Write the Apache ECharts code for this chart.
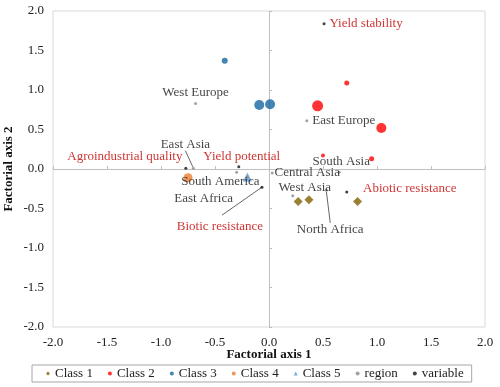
<!DOCTYPE html>
<html>
<head>
<meta charset="utf-8">
<script src="https://cdn.jsdelivr.net/npm/echarts@6/dist/echarts.min.js"></script>
<style>html,body{margin:0;padding:0;background:#fff}#c{width:500px;height:387px}</style>
</head>
<body>
<div id="c"></div>
<script>
// ---- data ----
const axisTicks = [-2.0, -1.5, -1.0, -0.5, 0.0, 0.5, 1.0, 1.5, 2.0];
const class1X = [0.27, 0.37, 0.82];
const class1Y = [-0.41, -0.39, -0.41];
const class2X = [0.45, 1.04, 0.72, 0.95, 0.50];
const class2Y = [0.80, 0.52, 1.09, 0.13, 0.17];
const class3X = [-0.41, -0.09, 0.01];
const class3Y = [1.37, 0.81, 0.82];
const class4X = [-0.75];
const class4Y = [-0.11];
const class5X = [-0.20];
const class5Y = [-0.10];
const regionNames = ['West Europe','East Europe','East Asia','South America','East Africa','Central Asia','West Asia','South Asia','North Africa'];
const regionX = [-0.68, 0.35, -0.70, -0.20, -0.30, 0.03, 0.22, 0.65, 0.53];
const regionY = [0.83, 0.61, 0.01, -0.10, -0.04, -0.05, -0.34, -0.04, -0.27];
const variableNames = ['Yield stability','Agroindustrial quality','Yield potential','Abiotic resistance','Biotic resistance'];
const variableX = [0.51, -0.77, -0.28, 0.72, -0.065];
const variableY = [1.84, 0.01, 0.03, -0.29, -0.23];

// ---- styles ----
const class2Sizes = [11, 10, 5, 5, 4];
const class3Sizes = [6, 10, 10];
const regionLabelOffset = {
  'West Europe':[0,-11],'East Europe':[37,0],'East Asia':[-8,-24],'South America':[-27,5],
  'East Africa':[-33,26],'Central Asia':[35,0],'West Asia':[12,-8],'South Asia':[2,-11],'North Africa':[4,39]
};
const regionLines = ['East Asia','North Africa'];
const variableLabelOffset = {
  'Yield stability':[42,0],'Agroindustrial quality':[-61,-12],'Yield potential':[3,-10],
  'Abiotic resistance':[63,-3],'Biotic resistance':[-42,39]
};
// leader lines drawn manually: [variable name, pixel offset of line end from the point]
const manualLeaders = [['Biotic resistance', [-40, 28]]];
const FONT = 'Liberation Serif';
const guide = {show: false, lineStyle: {color: '#666', width: 1}};

function pts(xs, ys) { return xs.map((x, i) => [x, ys[i]]); }
function named(names, xs, ys, lines) {
  return names.map((n, i) => ({name: n, value: [xs[i], ys[i]], labelLine: {show: lines.indexOf(n) >= 0}}));
}
function layoutFn(names, offs) {
  return function (p) { const o = offs[names[p.dataIndex]]; return {dx: o[0], dy: o[1]}; };
}

const chart = echarts.init(document.getElementById('c'), null, {renderer: 'canvas'});
const fmt = v => v.toFixed(1);
chart.setOption({
  animation: false,
  backgroundColor: '#fff',
  textStyle: {fontFamily: FONT},
  grid: {left: 53, right: 15, top: 11, bottom: 60, show: true, borderColor: '#D9D9D9', borderWidth: 1,
         outerBoundsMode: 'none', containLabel: false},
  xAxis: [
    {type: 'value', min: -2, max: 2, interval: 0.5, position: 'bottom',
     axisLine: {show: false, onZero: false}, axisTick: {show: false}, splitLine: {show: false},
     axisLabel: {formatter: fmt, color: '#222', fontFamily: FONT, fontSize: 13, margin: 9},
     name: 'Factorial axis 1', nameLocation: 'middle', nameGap: 21, nameMoveOverlap: false,
     nameTextStyle: {fontFamily: FONT, fontWeight: 'bold', fontSize: 13, color: '#111'}},
    {type: 'value', min: -2, max: 2, interval: 0.5, position: 'top',
     axisLine: {show: true, onZero: true, onZeroAxisIndex: 0, lineStyle: {color: '#BFBFBF', width: 1}},
     axisTick: {show: true, length: 3, lineStyle: {color: '#BFBFBF'}}, axisLabel: {show: false}, splitLine: {show: false}}
  ],
  yAxis: [
    {type: 'value', min: -2, max: 2, interval: 0.5, position: 'left',
     axisLine: {show: false, onZero: false}, axisTick: {show: false}, splitLine: {show: false},
     axisLabel: {formatter: fmt, color: '#222', fontFamily: FONT, fontSize: 13, margin: 9},
     name: 'Factorial axis 2', nameLocation: 'middle', nameGap: 38, nameRotate: 90, nameMoveOverlap: false,
     nameTextStyle: {fontFamily: FONT, fontWeight: 'bold', fontSize: 13, color: '#111'}},
    {type: 'value', min: -2, max: 2, interval: 0.5, position: 'right',
     axisLine: {show: true, onZero: true, onZeroAxisIndex: 0, lineStyle: {color: '#BFBFBF', width: 1}},
     axisTick: {show: true, length: 3, lineStyle: {color: '#BFBFBF'}}, axisLabel: {show: false}, splitLine: {show: false}}
  ],
  legend: {
    data: ['Class 1','Class 2','Class 3','Class 4','Class 5','region','variable'],
    left: 32, top: 365, itemWidth: 4, itemHeight: 4, itemGap: 15,
    padding: [2, 8, 2, 14], borderColor: '#A6A6A6', borderWidth: 1,
    textStyle: {fontFamily: FONT, fontSize: 13, color: '#222'}
  },
  series: [
    {name: 'Class 1', type: 'scatter', symbol: 'diamond', symbolSize: 9, data: pts(class1X, class1Y),
     itemStyle: {color: '#7F6000'}},
    {name: 'Class 2', type: 'scatter', symbol: 'circle', symbolSize: (v, p) => class2Sizes[p.dataIndex],
     data: pts(class2X, class2Y), itemStyle: {color: '#FF0000'}},
    {name: 'Class 3', type: 'scatter', symbol: 'circle', symbolSize: (v, p) => class3Sizes[p.dataIndex],
     data: pts(class3X, class3Y), itemStyle: {color: '#1767A0'}},
    {name: 'Class 4', type: 'scatter', symbol: 'circle', symbolSize: 9, data: pts(class4X, class4Y),
     itemStyle: {color: '#ED7D31'}},
    {name: 'Class 5', type: 'scatter', symbol: 'triangle', symbolSize: 9, data: pts(class5X, class5Y),
     itemStyle: {color: '#5B9BD5'}},
    {name: 'region', type: 'scatter', symbol: 'circle', symbolSize: 3,
     data: named(regionNames, regionX, regionY, regionLines), itemStyle: {color: '#8C8C8C'},
     label: {show: true, position: 'inside', formatter: '{b}', color: '#111', fontFamily: FONT, fontSize: 13},
     labelLine: guide,
     labelLayout: layoutFn(regionNames, regionLabelOffset)},
    {name: 'variable', type: 'scatter', symbol: 'circle', symbolSize: 3,
     data: named(variableNames, variableX, variableY, []),
     itemStyle: {color: '#111'},
     label: {show: true, position: 'inside', formatter: '{b}', color: '#C00000', fontFamily: FONT, fontSize: 13},
     labelLine: guide,
     labelLayout: layoutFn(variableNames, variableLabelOffset)}
  ]
});

// leader lines from the point (via the chart's own scales) to its displaced label
const leaderGraphics = manualLeaders.map(([n, off]) => {
  const i = variableNames.indexOf(n);
  const p = chart.convertToPixel({xAxisIndex: 0, yAxisIndex: 0}, [variableX[i], variableY[i]]);
  return {type: 'line', silent: true, z: 1,
          shape: {x1: p[0], y1: p[1], x2: p[0] + off[0], y2: p[1] + off[1]},
          style: {stroke: '#666', lineWidth: 1}};
});
chart.setOption({graphic: leaderGraphics});
</script>
</body>
</html>
